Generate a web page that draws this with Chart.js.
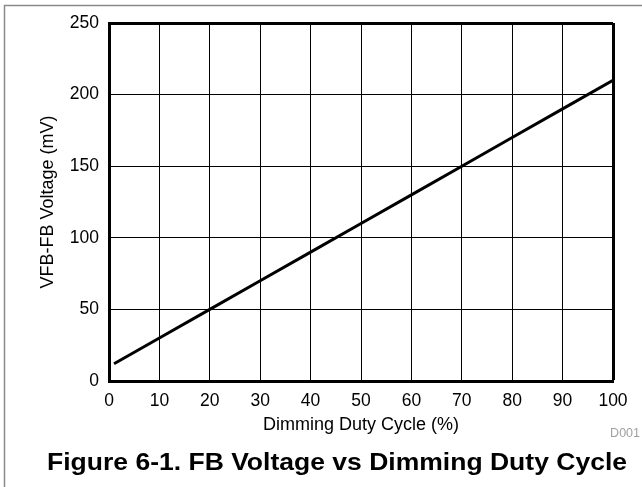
<!DOCTYPE html>
<html>
<head>
<meta charset="utf-8">
<script src="https://cdn.jsdelivr.net/npm/chart.js@4"></script>
<style>
  html, body { margin: 0; padding: 0; background: #fff; }
  canvas { display: block; }
</style>
</head>
<body>
<canvas id="myChart" width="642" height="487"></canvas>
<script>
// values
const dutyCycle = [1, 10, 20, 30, 40, 50, 60, 70, 80, 90, 100];
const fbVoltage = [12, 30, 50, 70, 90, 110, 130, 150, 170, 190, 210];

const xTicks = [0, 10, 20, 30, 40, 50, 60, 70, 80, 90, 100];
const yTicks = [0, 50, 100, 150, 200, 250];

const xTitle = "Dimming Duty Cycle (%)";
const yTitle = "VFB-FB Voltage (mV)";
const caption = "Figure 6-1. FB Voltage vs Dimming Duty Cycle";
const figId = "D001";

const FONT = "'Liberation Sans', Arial, Helvetica, sans-serif";

const frameAndCaption = {
    id: "frameAndCaption",
    beforeDraw(chart) {
        const ctx = chart.ctx;
        ctx.save();
        ctx.fillStyle = "#fff";
        ctx.fillRect(0, 0, chart.width, chart.height);
        ctx.strokeStyle = "#8a8a8a";
        ctx.lineWidth = 1.5;
        ctx.strokeRect(4.5, 5.5, chart.width + 20, chart.height + 20);
        ctx.restore();
    },
    afterDraw(chart) {
        const ctx = chart.ctx;
        ctx.save();
        ctx.fillStyle = "#a0a0a0";
        ctx.font = "12.5px " + FONT;
        ctx.textAlign = "right";
        ctx.textBaseline = "middle";
        ctx.fillText(figId, 640, 434);

        // caption is set in a wider face than Liberation Sans, so stretch it a bit
        ctx.fillStyle = "#000";
        ctx.font = "bold 24px " + FONT;
        ctx.textAlign = "center";
        const w = ctx.measureText(caption).width;
        ctx.translate(337, 463);
        ctx.scale(580 / w, 1);
        ctx.fillText(caption, 0, 0);
        ctx.restore();
    }
};

const myChartRef = document.getElementById("myChart").getContext("2d");

new Chart(myChartRef, {
    type: "line",
    data: {
        datasets: [
            {
                data: dutyCycle.map((x, i) => ({ x: x, y: fbVoltage[i] })),
                fill: false,
                borderColor: "#000",
                borderWidth: 3,
                pointRadius: 0,
                tension: 0
            }
        ]
    },
    options: {
        responsive: false,
        animation: false,
        devicePixelRatio: 1,
        layout: { padding: { left: 0, top: 23, right: 29, bottom: 0 } },
        plugins: {
            legend: { display: false },
            tooltip: { enabled: false }
        },
        scales: {
            x: {
                type: "linear",
                min: 0,
                max: 100,
                afterBuildTicks: (s) => { s.ticks = xTicks.map(v => ({ value: v })); },
                afterFit: (s) => { s.height = 106; },
                grid: {
                    color: "#000",
                    lineWidth: (c) => (c.tick && c.tick.value === 100 ? 3 : 1),
                    drawTicks: false
                },
                border: { display: true, color: "#000", width: 3 },
                ticks: {
                    color: "#000",
                    padding: 10,
                    maxRotation: 0,
                    font: { family: FONT, size: 17.5 }
                },
                title: {
                    display: true,
                    text: xTitle,
                    color: "#000",
                    font: { family: FONT, size: 18 },
                    padding: { top: 0, bottom: 51 }
                }
            },
            y: {
                type: "linear",
                min: 0,
                max: 250,
                afterBuildTicks: (s) => { s.ticks = yTicks.map(v => ({ value: v })); },
                afterFit: (s) => { s.width = 109; },
                grid: {
                    color: "#000",
                    lineWidth: (c) => (c.tick && c.tick.value === 250 ? 3 : 1),
                    drawTicks: false
                },
                border: { display: true, color: "#000", width: 3 },
                ticks: {
                    color: "#000",
                    padding: 10,
                    font: { family: FONT, size: 17.5 }
                },
                title: {
                    display: true,
                    text: yTitle,
                    color: "#000",
                    font: { family: FONT, size: 18 },
                    padding: { top: 37, bottom: 0 }
                }
            }
        }
    },
    plugins: [frameAndCaption]
});
</script>
</body>
</html>
